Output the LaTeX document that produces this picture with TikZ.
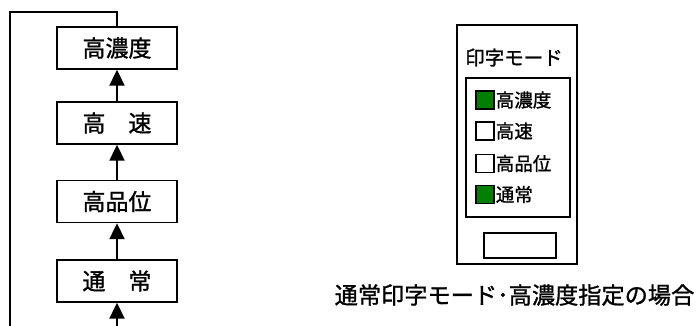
\documentclass[tikz,border=0pt]{standalone}
\usepackage{fontspec}
\setmainfont{Noto Sans CJK JP}[FakeBold=1.2]
\usetikzlibrary{arrows.meta}
\definecolor{boxgreen}{HTML}{008000}
\tikzset{
  modebox/.style={draw, line width=1.4pt, minimum width=120pt, minimum height=42pt, inner sep=0pt, font=\fontsize{23}{24}\selectfont},
  uparrow/.style={line width=2pt, -{Triangle[width=15pt,length=16pt]}},
  loopline/.style={line width=1.4pt},
  panel/.style={draw, line width=1.4pt},
  chk/.style={draw, line width=1.3pt, minimum size=18pt, inner sep=0pt},
  chkon/.style={chk, fill=boxgreen},
  chklabel/.style={anchor=west, inner sep=0pt, font=\fontsize{18.5}{19}\selectfont},
}
\begin{document}
\begin{tikzpicture}[x=1pt,y=-1pt]
\useasboundingbox (0,0) rectangle (697,326);
% left flow
\node[modebox] (hd) at (117,48) {高濃度};
\node[modebox] (hs) at (117,123) {高　速};
\node[modebox] (hq) at (117,201.5) {高品位};
\node[modebox] (nm) at (117,281) {通　常};
\draw[uparrow] (hs.north) -- (hd.south);
\draw[uparrow] (hq.north) -- (hs.south);
\draw[uparrow] (nm.north) -- (hq.south);
\coordinate (bot) at (117,327);
\draw[uparrow] (bot) -- (nm.south);
\coordinate (lt) at (10,12);
\coordinate (lb) at (10,327);
\draw[loopline] (hd.north) |- (lt) -- (lb);
% panel
\node[panel, minimum width=120pt, minimum height=239pt, inner sep=0pt] (outer) at (517,144.5) {};
\node[font=\fontsize{19.5}{20}\selectfont, inner sep=0pt] (title) at (514,57.5) {印字モード};
\node[panel, minimum width=104pt, minimum height=139pt, inner sep=0pt] (inner) at (518,147.5) {};
\node[panel, line width=1.2pt, minimum width=72pt, minimum height=25pt, inner sep=0pt] (btn) at (520,245.5) {};
\node[chkon] (c1) at (485,100) {};
\node[chk] (c2) at (485,131) {};
\node[chk] (c3) at (485,163.5) {};
\node[chkon] (c4) at (485,194.5) {};
\node[chklabel] (l1) at ([xshift=1pt]c1.east) {高濃度};
\node[chklabel] (l2) at ([xshift=1pt]c2.east) {高速};
\node[chklabel] (l3) at ([xshift=1pt]c3.east) {高品位};
\node[chklabel] (l4) at ([xshift=1pt]c4.east) {通常};
% caption
\node[font=\fontsize{23.2}{25}\selectfont, inner sep=0pt] (cap) at (514.5,295) {通常印字モード･高濃度指定の場合};
\end{tikzpicture}
\end{document}
